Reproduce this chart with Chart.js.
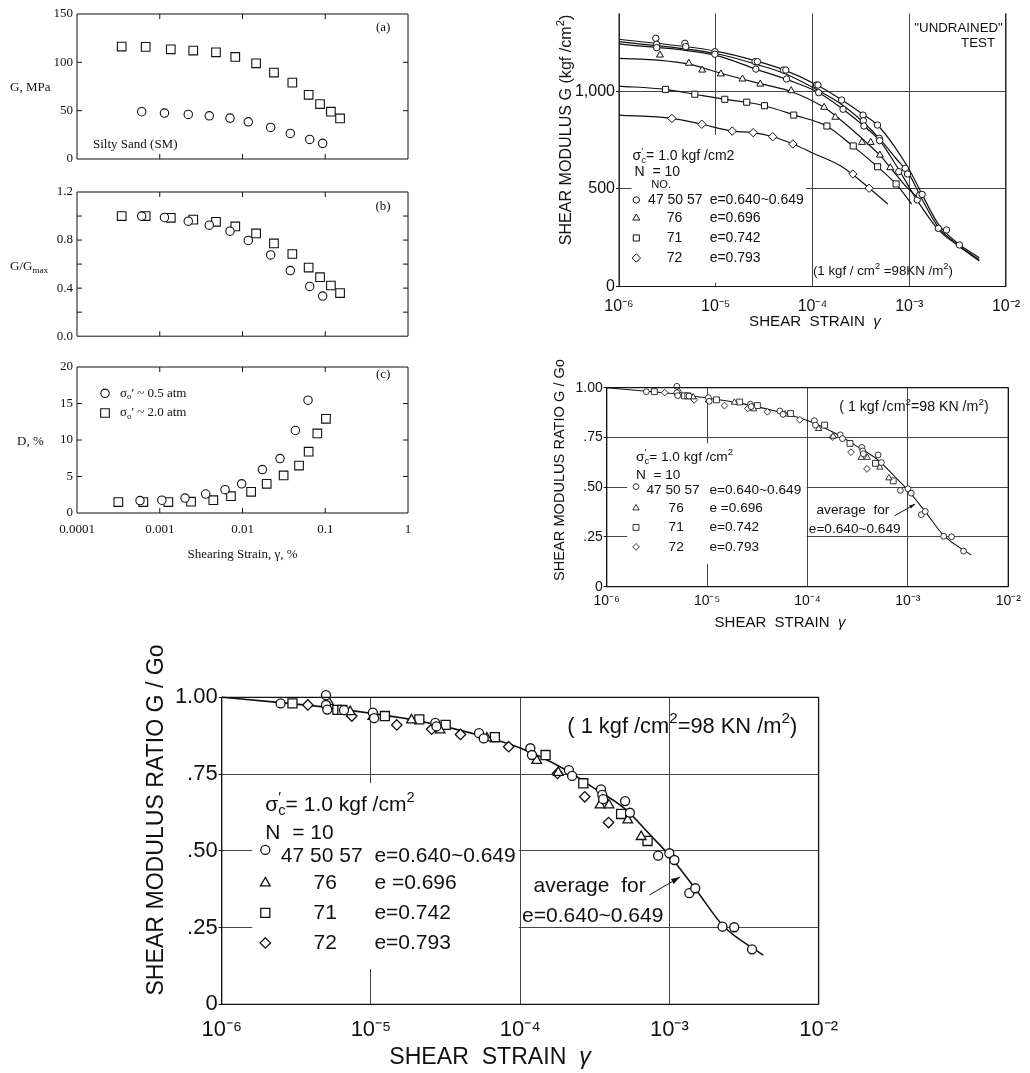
<!DOCTYPE html>
<html>
<head>
<meta charset="utf-8">
<script src="https://cdn.jsdelivr.net/npm/chart.js@4.4.1/dist/chart.umd.min.js"></script>
<style>
  html, body { margin: 0; padding: 0; background: #fff; }
  body { width: 1030px; height: 1073px; position: relative; overflow: hidden; }
  canvas { position: absolute; }
</style>
</head>
<body>
<canvas id="chA" width="425" height="176" style="left:0;top:0"></canvas>
<canvas id="chB" width="425" height="172" style="left:0;top:176px"></canvas>
<canvas id="chC" width="425" height="222" style="left:0;top:348px"></canvas>
<canvas id="chTR" width="475" height="335" style="left:555px;top:0"></canvas>
<canvas id="chMR" width="485" height="300" style="left:545px;top:340px"></canvas>
<canvas id="chBT" width="710" height="437" style="left:140px;top:636px"></canvas>
<script>
// ---------- (a)(b)(c) silty sand, strain in %
const strainTicks = [0.0001, 0.001, 0.01, 0.1, 1];
const strainLabels = ['0.0001', '0.001', '0.01', '0.1', '1'];
const gMpaTicks = [0, 50, 100, 150];
const gMpaLabels = ['0', '50', '100', '150'];
const gRatioTicks = [0, 0.4, 0.8, 1.2];
const gRatioLabels = ['0.0', '0.4', '0.8', '1.2'];
const dampTicks = [0, 5, 10, 15, 20];
const dampLabels = ['0', '5', '10', '15', '20'];

// sigma' ~ 2.0 atm (squares)
const sqStrain = [0.000347, 0.000676, 0.00136, 0.00254, 0.00478, 0.00818, 0.0146, 0.024, 0.040, 0.063, 0.0865, 0.117, 0.151];
const sqG = [116.3, 116, 113.5, 112.2, 110.4, 105.6, 99, 89.4, 79, 66.4, 56.8, 48.9, 42];
const sqRatio = [1.0, 1.0, 0.985, 0.97, 0.952, 0.913, 0.855, 0.772, 0.684, 0.571, 0.491, 0.422, 0.359];
// sigma' ~ 0.5 atm (circles)
const ciStrain = [0.000605, 0.00114, 0.00221, 0.00397, 0.00706, 0.01175, 0.0219, 0.0378, 0.0649, 0.0931];
const ciG = [48.9, 47.5, 46.1, 44.7, 42.3, 38.5, 32.7, 26.5, 20.3, 16.2];
const ciRatio = [1.0, 0.988, 0.957, 0.924, 0.874, 0.797, 0.676, 0.546, 0.414, 0.334];
// damping
const ciStrainD = [0.000577, 0.00106, 0.00202, 0.00359, 0.00615, 0.00977, 0.0174, 0.0284, 0.0435, 0.0619];
const ciDamp = [1.7, 1.75, 2.05, 2.6, 3.2, 4.0, 5.95, 7.45, 11.3, 15.45];
const sqStrainD = [0.000316, 0.000633, 0.00127, 0.00239, 0.00444, 0.00726, 0.0127, 0.0196, 0.0314, 0.0482, 0.063, 0.0802, 0.102];
const sqDamp = [1.5, 1.5, 1.5, 1.55, 1.75, 2.3, 2.9, 4.0, 5.15, 6.5, 8.4, 10.9, 12.9];

// ---------- shear modulus G (kgf/cm2) vs shear strain
const decades = [1e-6, 1e-5, 1e-4, 1e-3, 1e-2];
const decadeLabels = ['10\u207B\u2076', '10\u207B\u2075', '10\u207B\u2074', '10\u207B\u00B3', '10\u207B\u00B2'];
const gTicks = [0, 500, 1000];
const gLabels = ['0', '500', '1,000'];

const g640Strain = [2.4e-6, 2.45e-6, 2.45e-6, 4.8e-6, 4.9e-6, 9.8e-6, 9.8e-6, 2.55e-5, 2.7e-5, 2.6e-5, 5e-5, 5.3e-5, 5.4e-5, 1.1e-4, 1.14e-4, 1.16e-4, 2.0e-4, 2.07e-4, 3.33e-4, 3.36e-4, 3.4e-4, 4.7e-4, 4.9e-4, 4.95e-4, 7.8e-4, 9.1e-4, 9.6e-4, 1.21e-3, 1.28e-3, 1.36e-3, 2.0e-3, 2.43e-3, 3.3e-3];
const g640 = [1273, 1242, 1225, 1247, 1230, 1204, 1191, 1153, 1153, 1115, 1110, 1110, 1064, 1033, 1033, 994, 956, 909, 879, 850, 823, 828, 760, 748, 589, 606, 577, 444, 469, 472, 298, 290, 213];
const g696Strain = [2.65e-6, 5.27e-6, 7.24e-6, 1.13e-5, 1.89e-5, 2.89e-5, 6.03e-5, 1.32e-4, 1.72e-4, 3.25e-4, 4.0e-4, 4.98e-4, 6.37e-4];
const g696 = [1187, 1145, 1110, 1090, 1064, 1038, 1004, 919, 868, 739, 739, 674, 609];
const g742Strain = [3.03e-6, 6.07e-6, 1.24e-5, 2.09e-5, 3.19e-5, 6.4e-5, 1.41e-4, 2.64e-4, 4.71e-4, 7.32e-4];
const g742 = [1011, 986, 960, 945, 927, 879, 823, 721, 614, 526];
const g793Strain = [3.52e-6, 7.18e-6, 1.48e-5, 2.44e-5, 3.88e-5, 6.27e-5, 2.62e-4, 3.85e-4];
const g793 = [862, 832, 797, 789, 768, 731, 577, 504];

// drawn curves
const c640aStrain = [1e-6, 1e-5, 2.6e-5, 5e-5, 1.1e-4, 2e-4, 3.4e-4, 4.7e-4, 7e-4, 1e-3, 1.35e-3, 2e-3, 3.3e-3, 5.3e-3];
const c640a = [1268, 1207, 1157, 1112, 1035, 958, 880, 828, 720, 600, 475, 320, 215, 148];
const c640bStrain = [1e-6, 1e-5, 2.6e-5, 5.3e-5, 1.15e-4, 2.05e-4, 3.4e-4, 4.95e-4, 7.5e-4, 1e-3, 1.3e-3, 2e-3, 3.3e-3, 5.3e-3];
const c640b = [1256, 1195, 1140, 1090, 1005, 930, 840, 757, 650, 575, 465, 305, 208, 138];
const c640cStrain = [1e-6, 1e-5, 2.6e-5, 5.4e-5, 1.16e-4, 2.07e-4, 3.4e-4, 4.95e-4, 7.8e-4, 1.2e-3, 2e-3, 3.3e-3, 5.3e-3];
const c640c = [1244, 1185, 1115, 1062, 994, 909, 823, 748, 600, 444, 292, 205, 131];
const c696Strain = [1e-6, 2.65e-6, 5.3e-6, 1.1e-5, 2.9e-5, 6e-5, 1.3e-4, 2e-4, 3.5e-4, 5e-4, 6.4e-4, 9e-4, 1.3e-3];
const c696 = [1170, 1160, 1140, 1095, 1040, 1000, 920, 850, 745, 672, 609, 520, 444];
const c742Strain = [1e-6, 3e-6, 6e-6, 1.24e-5, 2.1e-5, 3.2e-5, 6.5e-5, 1.4e-4, 2.6e-4, 4.7e-4, 7.3e-4, 1.06e-3];
const c742 = [1028, 1011, 986, 960, 945, 927, 879, 823, 721, 614, 526, 423];
const c793Strain = [1e-6, 3.5e-6, 7.2e-6, 1.5e-5, 2.4e-5, 3.9e-5, 6.3e-5, 1e-4, 2e-4, 3.9e-4, 6e-4];
const c793 = [879, 862, 832, 797, 789, 768, 731, 685, 615, 503, 423];

// ---------- shear modulus ratio G/Go
const ratioTicks = [0, 0.25, 0.5, 0.75, 1];
const ratioLabels = ['0', '.25', '.50', '.75', '1.00'];
const r640Strain = [2.48e-6, 5.0e-6, 5.0e-6, 5.1e-6, 6.6e-6, 1.03e-5, 1.05e-5, 2.70e-5, 2.75e-5, 5.3e-5, 5.7e-5, 1.17e-4, 1.20e-4, 2.12e-4, 2.23e-4, 3.48e-4, 3.55e-4, 3.6e-4, 5.05e-4, 5.44e-4, 8.41e-4, 1.0e-3, 1.08e-3, 1.36e-3, 1.49e-3, 2.27e-3, 2.72e-3, 3.58e-3];
const r640 = [0.980, 1.007, 0.975, 0.960, 0.958, 0.950, 0.932, 0.917, 0.905, 0.883, 0.866, 0.834, 0.812, 0.763, 0.744, 0.700, 0.682, 0.668, 0.662, 0.624, 0.484, 0.492, 0.470, 0.362, 0.378, 0.253, 0.251, 0.179];
const r696Strain = [2.50e-6, 5.2e-6, 7.26e-6, 1.03e-5, 1.87e-5, 2.91e-5, 5.98e-5, 1.29e-4, 1.80e-4, 3.43e-4, 3.94e-4, 5.26e-4, 6.47e-4];
const r696 = [1.029, 0.985, 0.953, 0.937, 0.926, 0.893, 0.867, 0.794, 0.755, 0.649, 0.649, 0.600, 0.546];
const r742Strain = [2.98e-6, 5.96e-6, 6.43e-6, 1.24e-5, 2.11e-5, 3.17e-5, 6.77e-5, 1.48e-4, 2.65e-4, 4.75e-4, 7.14e-4];
const r742 = [0.980, 0.959, 0.959, 0.939, 0.928, 0.910, 0.870, 0.812, 0.720, 0.620, 0.532];
const r793Strain = [3.78e-6, 7.45e-6, 1.49e-5, 2.55e-5, 3.98e-5, 8.38e-5, 1.78e-4, 2.71e-4, 3.91e-4];
const r793 = [0.975, 0.939, 0.910, 0.896, 0.879, 0.839, 0.752, 0.676, 0.592];
const avgStrain = [1e-6, 2.2e-6, 5e-6, 1e-5, 2e-5, 5e-5, 1e-4, 2e-4, 3e-4, 5e-4, 7.5e-4, 1e-3, 1.5e-3, 2.3e-3, 4.25e-3];
const avgRatio = [1.0, 0.985, 0.968, 0.948, 0.925, 0.88, 0.835, 0.765, 0.71, 0.638, 0.55, 0.485, 0.375, 0.255, 0.16];

const SANS = '"Liberation Sans", Arial, sans-serif';
const SERIF = '"Liberation Serif", "Times New Roman", serif';
const INK = '#111';

// text with _{sub} ^{sup} ${italic}
function drawRich(ctx, str, x, y, size, family, align, rot) {
  const segs = str.split(/(_\{[^}]*\}|\^\{[^}]*\}|\$\{[^}]*\})/).filter(s => s).map(p => {
    if (p.startsWith('_{')) return { t: p.slice(2, -1), k: 'sub' };
    if (p.startsWith('^{')) return { t: p.slice(2, -1), k: 'sup' };
    if (p.startsWith('${')) return { t: p.slice(2, -1), k: 'it' };
    return { t: p, k: 'n' };
  });
  const fontOf = k => (k === 'it' ? 'italic ' : '') + ((k === 'sub' || k === 'sup') ? size * 0.7 : size) + 'px ' + family;
  let w = 0, prev = null, subX = 0;
  const laid = segs.map(s => {
    ctx.font = fontOf(s.k);
    const sw = ctx.measureText(s.t).width;
    let sx = w;
    if (s.k === 'sup' && prev && prev.k === 'sub') sx = subX;
    if (s.k === 'sub') subX = sx;
    w = Math.max(w, sx + sw);
    prev = s;
    return { s, sx };
  });
  const x0 = align === 'center' ? -w / 2 : align === 'right' ? -w : 0;
  ctx.save();
  ctx.translate(x, y);
  if (rot) ctx.rotate(rot);
  ctx.fillStyle = INK;
  ctx.textBaseline = 'middle';
  ctx.textAlign = 'left';
  laid.forEach(({ s, sx }) => {
    ctx.font = fontOf(s.k);
    const dy = s.k === 'sub' ? size * 0.28 : s.k === 'sup' ? -size * 0.36 : 0;
    ctx.fillText(s.t, x0 + sx, dy);
  });
  ctx.restore();
}

function drawMark(ctx, style, px, py, r, lw) {
  ctx.save();
  ctx.beginPath();
  ctx.lineWidth = lw;
  ctx.strokeStyle = INK;
  ctx.fillStyle = '#fff';
  if (style === 'circle') ctx.arc(px, py, r, 0, Math.PI * 2);
  else if (style === 'rect') { const h = r * Math.SQRT1_2; ctx.rect(px - h, py - h, 2 * h, 2 * h); }
  else if (style === 'rectRot') { ctx.moveTo(px, py - r); ctx.lineTo(px + r, py); ctx.lineTo(px, py + r); ctx.lineTo(px - r, py); ctx.closePath(); }
  else if (style === 'triangle') {
    for (let i = 0; i < 3; i++) {
      const a = i * 2 * Math.PI / 3;
      const fx = px + Math.sin(a) * r, fy = py - Math.cos(a) * r;
      i ? ctx.lineTo(fx, fy) : ctx.moveTo(fx, fy);
    }
    ctx.closePath();
  }
  ctx.fill();
  ctx.stroke();
  ctx.restore();
}

const paper = {
  id: 'paper',
  beforeDatasetsDraw(chart, args, o) {
    if (!o.masks) return;
    const { ctx, scales: { x, y } } = chart;
    ctx.save();
    ctx.fillStyle = '#fff';
    o.masks.forEach(m => {
      const l = x.getPixelForValue(m[0]), r = x.getPixelForValue(m[1]);
      const t = y.getPixelForValue(m[3]), b = y.getPixelForValue(m[2]);
      ctx.fillRect(l, t, r - l, b - t);
    });
    ctx.restore();
  },
  afterDraw(chart, args, o) {
    const { ctx, chartArea: a, scales: { x, y } } = chart;
    ctx.save();
    ctx.strokeStyle = INK;
    ctx.lineWidth = o.frameWidth || 1;
    ctx.beginPath();
    const seg = (x0, y0, x1, y1) => { ctx.moveTo(x0, y0); ctx.lineTo(x1, y1); };
    const sides = o.sides || 'tlbr';
    if (sides.includes('l')) seg(a.left, a.top, a.left, a.bottom);
    if (sides.includes('b')) seg(a.left, a.bottom, a.right, a.bottom);
    if (sides.includes('r')) seg(a.right, a.top, a.right, a.bottom);
    if (sides.includes('t')) seg(a.left, a.top, a.right, a.top);
    const L = o.tickLen || 5;
    (o.innerX || []).forEach(v => {
      const p = x.getPixelForValue(v);
      seg(p, a.bottom, p, a.bottom - L);
      seg(p, a.top, p, a.top + L);
    });
    (o.innerY || []).forEach(v => {
      const p = y.getPixelForValue(v);
      seg(a.left, p, a.left + L, p);
      seg(a.right, p, a.right - L, p);
    });
    ctx.stroke();
    (o.arrows || []).forEach(r => {
      const x0 = x.getPixelForValue(r[0]), y0 = y.getPixelForValue(r[1]);
      const x1 = x.getPixelForValue(r[2]), y1 = y.getPixelForValue(r[3]);
      const ang = Math.atan2(y1 - y0, x1 - x0), hl = o.size * 0.45;
      ctx.beginPath();
      ctx.lineWidth = 1;
      ctx.moveTo(x0, y0); ctx.lineTo(x1, y1);
      ctx.stroke();
      ctx.beginPath();
      ctx.fillStyle = INK;
      ctx.moveTo(x1, y1);
      ctx.lineTo(x1 - hl * Math.cos(ang - 0.3), y1 - hl * Math.sin(ang - 0.3));
      ctx.lineTo(x1 - hl * Math.cos(ang + 0.3), y1 - hl * Math.sin(ang + 0.3));
      ctx.closePath();
      ctx.fill();
    });
    (o.symbols || []).forEach(s => drawMark(ctx, s.style, x.getPixelForValue(s.x), y.getPixelForValue(s.y), s.r, o.markWidth || 1));
    (o.notes || []).forEach(n => {
      const px = n.pix ? n.x : x.getPixelForValue(n.x);
      const py = n.pix ? n.y : y.getPixelForValue(n.y);
      drawRich(ctx, n.t, px, py, o.size * (n.k || 1), o.family, n.align || 'left', n.rot);
    });
    ctx.restore();
  }
};

function zip(xs, ys) { return xs.map((v, i) => ({ x: v, y: ys[i] })); }
function pts(xs, ys, style, r, bw) {
  return { data: zip(xs, ys), pointStyle: style, pointRadius: r, pointBorderColor: INK,
    pointBackgroundColor: '#fff', pointBorderWidth: bw, showLine: false, clip: false };
}
function curve(xs, ys, w) {
  return { data: zip(xs, ys), showLine: true, pointRadius: 0, borderColor: INK, borderWidth: w,
    cubicInterpolationMode: 'monotone', clip: false };
}

function makeChart(id, c) {
  return new Chart(document.getElementById(id), {
    type: 'scatter',
    data: { datasets: c.datasets },
    options: {
      responsive: false,
      animation: false,
      events: [],
      layout: { autoPadding: false, padding: { top: c.padTop, right: c.padRight, left: 0, bottom: 0 } },
      plugins: { legend: { display: false }, tooltip: { enabled: false }, paper: c.paper },
      scales: {
        x: {
          type: 'logarithmic',
          min: c.xTicks[0], max: c.xTicks[c.xTicks.length - 1],
          afterBuildTicks: s => { s.ticks = c.xTicks.map(v => ({ value: v })); },
          afterFit: s => { s.height = c.xH; },
          border: { display: false },
          grid: c.grid ? { color: c.grid, lineWidth: 1, drawTicks: false } : { display: false, drawTicks: false },
          ticks: { display: !!c.xLabels, autoSkip: false, maxRotation: 0, padding: c.xPad || 0, color: INK,
            font: c.xFont || c.tickFont, callback: (v, i) => (c.xLabels ? c.xLabels[i] : '') }
        },
        y: {
          type: 'linear',
          min: c.yTicks[0], max: c.yMax,
          afterBuildTicks: s => { s.ticks = c.yTicks.map(v => ({ value: v })); },
          afterFit: s => { s.width = c.yW; },
          border: { display: false },
          grid: c.grid ? { color: c.grid, lineWidth: 1, drawTicks: true, tickLength: 3, tickColor: INK }
                       : { display: false, drawTicks: false },
          ticks: { padding: c.yPad, color: INK, font: c.tickFont, callback: (v, i) => c.yLabels[i] }
        }
      }
    },
    plugins: [paper]
  });
}

const leftFont = { family: SERIF, size: 13 };

// (a)
makeChart('chA', {
  padTop: 14, padRight: 17, xH: 17, yW: 77, yPad: 4,
  xTicks: strainTicks, yTicks: gMpaTicks, yLabels: gMpaLabels, yMax: 150, tickFont: leftFont,
  datasets: [pts(ciStrain, ciG, 'circle', 4.2, 1.1), pts(sqStrain, sqG, 'rect', 6.1, 1.1)],
  paper: {
    innerX: [0.001, 0.01, 0.1], innerY: [50, 100], family: SERIF, size: 13,
    notes: [
      { t: '(a)', x: 0.5, y: 135.5, align: 'center' },
      { t: 'Silty Sand (SM)', x: 0.000156, y: 14.5 },
      { t: 'G, MPa', x: 10, y: 88, pix: true }
    ]
  }
});

// (b)
makeChart('chB', {
  padTop: 16, padRight: 17, xH: 11, yW: 77, yPad: 4,
  xTicks: strainTicks, yTicks: gRatioTicks, yLabels: gRatioLabels, yMax: 1.2, tickFont: leftFont,
  datasets: [pts(ciStrain, ciRatio, 'circle', 4.2, 1.1), pts(sqStrain, sqRatio, 'rect', 6.1, 1.1)],
  paper: {
    innerX: [0.001, 0.01, 0.1], innerY: [0.2, 0.4, 0.6, 0.8, 1.0], family: SERIF, size: 13,
    notes: [
      { t: '(b)', x: 0.5, y: 1.076, align: 'center' },
      { t: 'G/G_{max}', x: 10, y: 91, pix: true }
    ]
  }
});

// (c)
makeChart('chC', {
  padTop: 19, padRight: 17, xH: 57, yW: 77, yPad: 4, xPad: 9,
  xTicks: strainTicks, xLabels: strainLabels, yTicks: dampTicks, yLabels: dampLabels, yMax: 20, tickFont: leftFont,
  datasets: [pts(ciStrainD, ciDamp, 'circle', 4.2, 1.1), pts(sqStrainD, sqDamp, 'rect', 6.1, 1.1)],
  paper: {
    innerX: [0.001, 0.01, 0.1], innerY: [5, 10, 15], family: SERIF, size: 13, markWidth: 1.1,
    symbols: [
      { style: 'circle', x: 0.000218, y: 16.4, r: 4.2 },
      { style: 'rect', x: 0.000218, y: 13.7, r: 6.1 }
    ],
    notes: [
      { t: '(c)', x: 0.5, y: 18.9, align: 'center' },
      { t: '\u03C3_{o}\' ~ 0.5 atm', x: 0.000331, y: 16.4 },
      { t: '\u03C3_{o}\' ~ 2.0 atm', x: 0.000331, y: 13.7 },
      { t: 'D, %', x: 17, y: 94, pix: true },
      { t: 'Shearing Strain, \u03B3, %', x: 242.5, y: 207, pix: true, align: 'center' }
    ]
  }
});

// G vs strain
makeChart('chTR', {
  padTop: 13.5, padRight: 14, xH: 48.5, yW: 64, yPad: 1, xPad: 10,
  xTicks: decades, xLabels: decadeLabels, yTicks: gTicks, yLabels: gLabels, yMax: 1400,
  tickFont: { family: SANS, size: 16 }, grid: '#444',
  datasets: [
    pts(g640Strain, g640, 'circle', 3.2, 1), pts(g696Strain, g696, 'triangle', 4, 1),
    pts(g742Strain, g742, 'rect', 4.3, 1), pts(g793Strain, g793, 'rectRot', 4.2, 1),
    curve(c640aStrain, c640a, 1.2), curve(c640bStrain, c640b, 1.2), curve(c640cStrain, c640c, 1.2),
    curve(c696Strain, c696, 1.2), curve(c742Strain, c742, 1.2), curve(c793Strain, c793, 1.2)
  ],
  paper: {
    sides: 'lbr', family: SANS, size: 14,
    masks: [[1.35e-6, 8.6e-5, 20, 777]],
    symbols: [
      { style: 'circle', x: 1.51e-6, y: 444, r: 3.2 },
      { style: 'triangle', x: 1.51e-6, y: 351, r: 4 },
      { style: 'rect', x: 1.51e-6, y: 249, r: 4.3 },
      { style: 'rectRot', x: 1.51e-6, y: 146, r: 4.2 }
    ],
    notes: [
      { t: '"UNDRAINED"', x: 1.13e-3, y: 1326, k: 0.95 },
      { t: 'TEST', x: 3.44e-3, y: 1249, k: 0.95 },
      { t: '\u03C3_{c}^{\u2032}= 1.0 kgf /cm2', x: 1.38e-6, y: 668 },
      { t: 'N  = 10', x: 1.45e-6, y: 588 },
      { t: 'NO.', x: 2.15e-6, y: 522, k: 0.8 },
      { t: '47 50 57', x: 2.0e-6, y: 444 },
      { t: 'e=0.640~0.649', x: 8.65e-6, y: 444 },
      { t: '76', x: 3.12e-6, y: 351 }, { t: 'e=0.696', x: 8.65e-6, y: 351 },
      { t: '71', x: 3.12e-6, y: 249 }, { t: 'e=0.742', x: 8.65e-6, y: 249 },
      { t: '72', x: 3.12e-6, y: 146 }, { t: 'e=0.793', x: 8.65e-6, y: 146 },
      { t: '(1 kgf / cm^{2} =98KN /m^{2})', x: 1.01e-4, y: 79, k: 0.95 },
      { t: 'SHEAR MODULUS G (kgf /cm^{2})', x: 12, y: 130, pix: true, align: 'center', rot: -Math.PI / 2, k: 1.15 },
      { t: 'SHEAR  STRAIN  ${\u03B3}', x: 260, y: 322, pix: true, align: 'center', k: 1.08 }
    ]
  }
});

// shared annotations for the two G/Go charts
const ratioSymbols = [
  { style: 'circle', x: 1.96e-6, y: 0.503, r: 4.5 },
  { style: 'triangle', x: 1.96e-6, y: 0.395, r: 5.6 },
  { style: 'rect', x: 1.96e-6, y: 0.298, r: 6.4 },
  { style: 'rectRot', x: 1.96e-6, y: 0.200, r: 5.2 }
];
const ratioNotes = [
  { t: '\u03C3_{c}^{\u2032}= 1.0 kgf /cm^{2}', x: 1.96e-6, y: 0.649 },
  { t: 'N  = 10', x: 1.96e-6, y: 0.558 },
  { t: '47 50 57', x: 2.49e-6, y: 0.483 },
  { t: 'e=0.640~0.649', x: 1.055e-5, y: 0.483 },
  { t: '76', x: 4.13e-6, y: 0.395 }, { t: 'e =0.696', x: 1.055e-5, y: 0.395 },
  { t: '71', x: 4.13e-6, y: 0.298 }, { t: 'e=0.742', x: 1.055e-5, y: 0.298 },
  { t: '72', x: 4.13e-6, y: 0.200 }, { t: 'e=0.793', x: 1.055e-5, y: 0.200 },
  { t: '( 1 kgf /cm^{2}=98 KN /m^{2})', x: 2.07e-4, y: 0.903, k: 1.04 },
  { t: 'average  for', x: 1.23e-4, y: 0.385 },
  { t: 'e=0.640~0.649', x: 1.03e-4, y: 0.288 }
];

function ratioChart(id, s, box) {
  const sym = ratioSymbols.map(m => Object.assign({}, m, { r: m.r * s }));
  makeChart(id, Object.assign({
    xTicks: decades, xLabels: decadeLabels, yTicks: ratioTicks, yLabels: ratioLabels, yMax: 1,
    tickFont: { family: SANS, size: Math.round(22 * s) }, grid: '#444', yPad: 1,
    datasets: [
      pts(r640Strain, r640, 'circle', 4.5 * s, 1.3 * s), pts(r696Strain, r696, 'triangle', 5.6 * s, 1.3 * s),
      pts(r742Strain, r742, 'rect', 6.4 * s, 1.3 * s), pts(r793Strain, r793, 'rectRot', 5.2 * s, 1.3 * s),
      curve(avgStrain, avgRatio, 1.6 * s)
    ],
    paper: {
      family: SANS, size: 21 * s, frameWidth: 1.3, markWidth: 1.3 * s,
      masks: [[1.6e-6, 9.8e-5, 0.115, 0.72]],
      symbols: sym,
      arrows: [[7.35e-4, 0.356, 1.18e-3, 0.415]],
      notes: ratioNotes.concat(box.titles)
    }
  }, box));
}

ratioChart('chMR', 0.65, {
  padTop: 47.7, padRight: 21.7, xH: 53.3, yW: 61.7, xPad: 6,
  titles: [
    { t: 'SHEAR MODULUS RATIO G / Go', x: 15, y: 130, pix: true, align: 'center', rot: -Math.PI / 2, k: 1.07 },
    { t: 'SHEAR  STRAIN  ${\u03B3}', x: 235, y: 283, pix: true, align: 'center', k: 1.1 }
  ]
});
ratioChart('chBT', 1, {
  padTop: 61.3, padRight: 9.3, xH: 68.7, yW: 81.7, xPad: 12,
  titles: [
    { t: 'SHEAR MODULUS RATIO G / Go', x: 17, y: 184, pix: true, align: 'center', rot: -Math.PI / 2, k: 1.1 },
    { t: 'SHEAR  STRAIN  ${\u03B3}', x: 350, y: 422, pix: true, align: 'center', k: 1.1 }
  ]
});
</script>
</body>
</html>
